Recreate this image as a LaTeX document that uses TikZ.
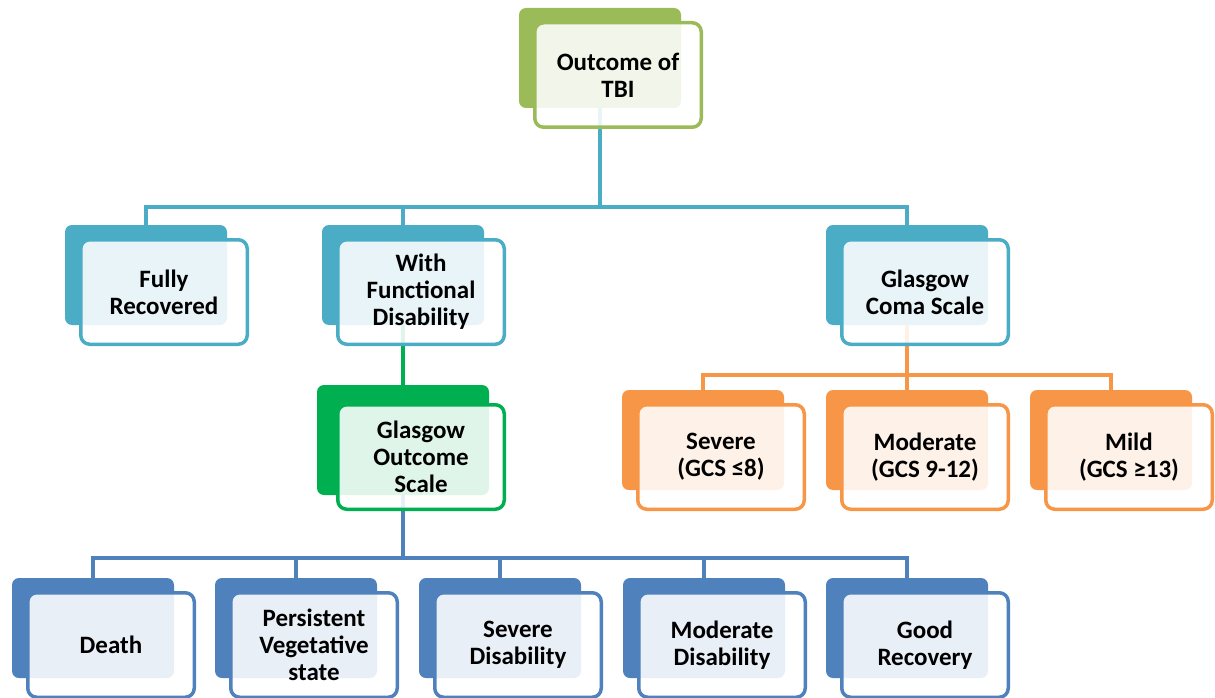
\documentclass[tikz,border=0pt]{standalone}
\usepackage{fontspec}
\setmainfont{Carlito}
\usetikzlibrary{backgrounds}
\definecolor{tbiolive}{HTML}{9BBB59}
\definecolor{tbiaqua}{HTML}{4BACC6}
\definecolor{tbigreen}{HTML}{00B050}
\definecolor{tbiorange}{HTML}{F79646}
\definecolor{tbiblue}{HTML}{4F81BD}
\begin{document}
\begin{tikzpicture}[x=1pt,y=-1pt,line join=round,line cap=round,
	font=\bfseries\fontsize{25}{27}\selectfont,
	back/.style={rounded corners=7pt,minimum width=162pt,minimum height=100pt,inner sep=0pt},
	bigback/.style={back,minimum width=172pt,minimum height=110pt},
	front/.style={rounded corners=9pt,line width=3.5pt,fill=white,fill opacity=0.88,text opacity=1,
		minimum width=166.5pt,minimum height=104.5pt,inner sep=0pt,align=center},
	bus/.style={line width=3.5pt}]
	\useasboundingbox (0,0) rectangle (1215,698);
	\foreach \n/\p/\c/\o/\t in {
		top/{600,58}/tbiolive/back/{Outcome of\\TBI},
		fr/{146,275}/tbiaqua/back/{Fully\\Recovered},
		wfd/{403,275}/tbiaqua/back/{With\\Functional\\Disability},
		gcs/{907,275}/tbiaqua/back/{Glasgow\\Coma Scale},
		gos/{403,440}/tbigreen/bigback/{Glasgow\\Outcome\\Scale},
		sev/{703,440}/tbiorange/back/{Severe\\(GCS ≤8)},
		mod/{907,440}/tbiorange/back/{Moderate\\(GCS 9-12)},
		mild/{1111,440}/tbiorange/back/{Mild\\(GCS ≥13)},
		dth/{93,628}/tbiblue/back/{Death},
		pvs/{296,628}/tbiblue/back/{Persistent\\Vegetative\\state},
		sd/{500,628}/tbiblue/back/{Severe\\Disability},
		md/{704,628}/tbiblue/back/{Moderate\\Disability},
		gr/{907,628}/tbiblue/back/{Good\\Recovery}}
	{
		\node[\o,fill=\c] (\n) at (\p) {};
		\node[front,draw=\c] (\n f) at ([shift={(18,17)}]\n.center) {\t};
	}
	\begin{pgfonlayer}{background}
		\foreach \k in {fr,wfd,gcs}
		\draw[bus,tbiaqua] (top.south) -- ++(0,99) -| (\k.north);
		\draw[bus,tbigreen,line width=4.5pt] (wfd.south) -- (gos.north);
		\foreach \k in {sev,mod,mild}
		\draw[bus,tbiorange] (gcs.south) -- ++(0,50) -| (\k.north);
		\foreach \k in {dth,pvs,sd,md,gr}
		\draw[bus,tbiblue] (gos.south) -- ++(0,63) -| (\k.north);
	\end{pgfonlayer}
\end{tikzpicture}
\end{document}
